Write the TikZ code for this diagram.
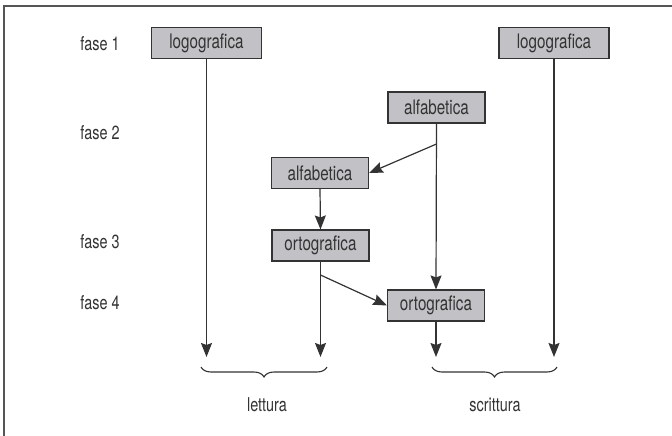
\documentclass[tikz,border=0pt]{standalone}
\usepackage{fontspec}
\setmainfont[FakeStretch=0.76]{TeX Gyre Heros}
\usetikzlibrary{arrows.meta,decorations.pathreplacing}
\definecolor{boxfill}{HTML}{C2C2C6}
\definecolor{ink}{HTML}{333333}
\definecolor{framec}{HTML}{555555}
\begin{document}
\begin{tikzpicture}[x=1pt,y=-1pt,
  stagebox/.style={draw=ink,fill=boxfill,line width=1.1pt,minimum height=31pt,inner sep=0pt,text=ink,font=\fontsize{20}{22}\selectfont},
  faselab/.style={text=ink,font=\fontsize{19}{22}\selectfont},
  arr/.style={draw=ink,line width=1.2pt,-{Stealth[length=14pt,width=11pt,inset=2pt]}},
  plain/.style={draw=ink,line width=1.2pt},
  bracestyle/.style={draw=ink,line width=1.1pt,decorate,decoration={brace,mirror,amplitude=10pt}},
  grouplab/.style={text=ink,font=\fontsize{19}{22}\selectfont}]
\useasboundingbox (0,0) rectangle (672,436);
\draw[framec,line width=2pt] (3.5,436) -- (3.5,6.5) -- (672,6.5);
% stage labels
\node[faselab] (f1) at (100,44) {fase 1};
\node[faselab] (f2) at (100,133) {fase 2};
\node[faselab] (f3) at (100,242) {fase 3};
\node[faselab] (f4) at (100,303) {fase 4};
% boxes
\node[stagebox,minimum width=110pt] (logoL) at (206.5,43) {logografica};
\node[stagebox,minimum width=110pt] (logoR) at (554,43) {logografica};
\node[stagebox,minimum width=97pt] (alfaT) at (436.5,107.5) {alfabetica};
\node[stagebox,minimum width=97pt] (alfaL) at (320,173) {alfabetica};
\node[stagebox,minimum width=97pt] (ortoL) at (320.5,245.5) {ortografica};
\node[stagebox,minimum width=97pt] (ortoR) at (436,305.5) {ortografica};
% end points
\coordinate (e1) at (logoL.south |- 0,357);
\coordinate (e2) at (ortoL.south |- 0,357);
\coordinate (e3) at (ortoR.south |- 0,357);
\coordinate (e4) at (logoR.south |- 0,357);
\coordinate (bA) at (alfaT.south |- 0,144);
\coordinate (bO) at (ortoL.south |- 0,275);
% connectors
\draw[arr] (logoL.south) -- (e1);
\draw[arr] (logoR.south) -- (e4);
\draw[arr] (alfaT.south) -- (ortoR.north);
\draw[arr] (bA) -- (alfaL.east);
\draw[arr] (alfaL.south) -- (ortoL.north);
\draw[arr] (ortoL.south) -- (e2);
\draw[arr] (bO) -- (ortoR.west);
\draw[arr] (ortoR.south) -- (e3);
% braces
\coordinate (l1) at (201,367);
\coordinate (l2) at (327,367);
\coordinate (s1) at (432,367);
\coordinate (s2) at (557,367);
\draw[bracestyle] (l1) -- (l2);
\draw[bracestyle] (s1) -- (s2);
\node[grouplab] (lett) at (267,405) {lettura};
\node[grouplab] (scri) at (495,405) {scrittura};
\end{tikzpicture}
\end{document}
